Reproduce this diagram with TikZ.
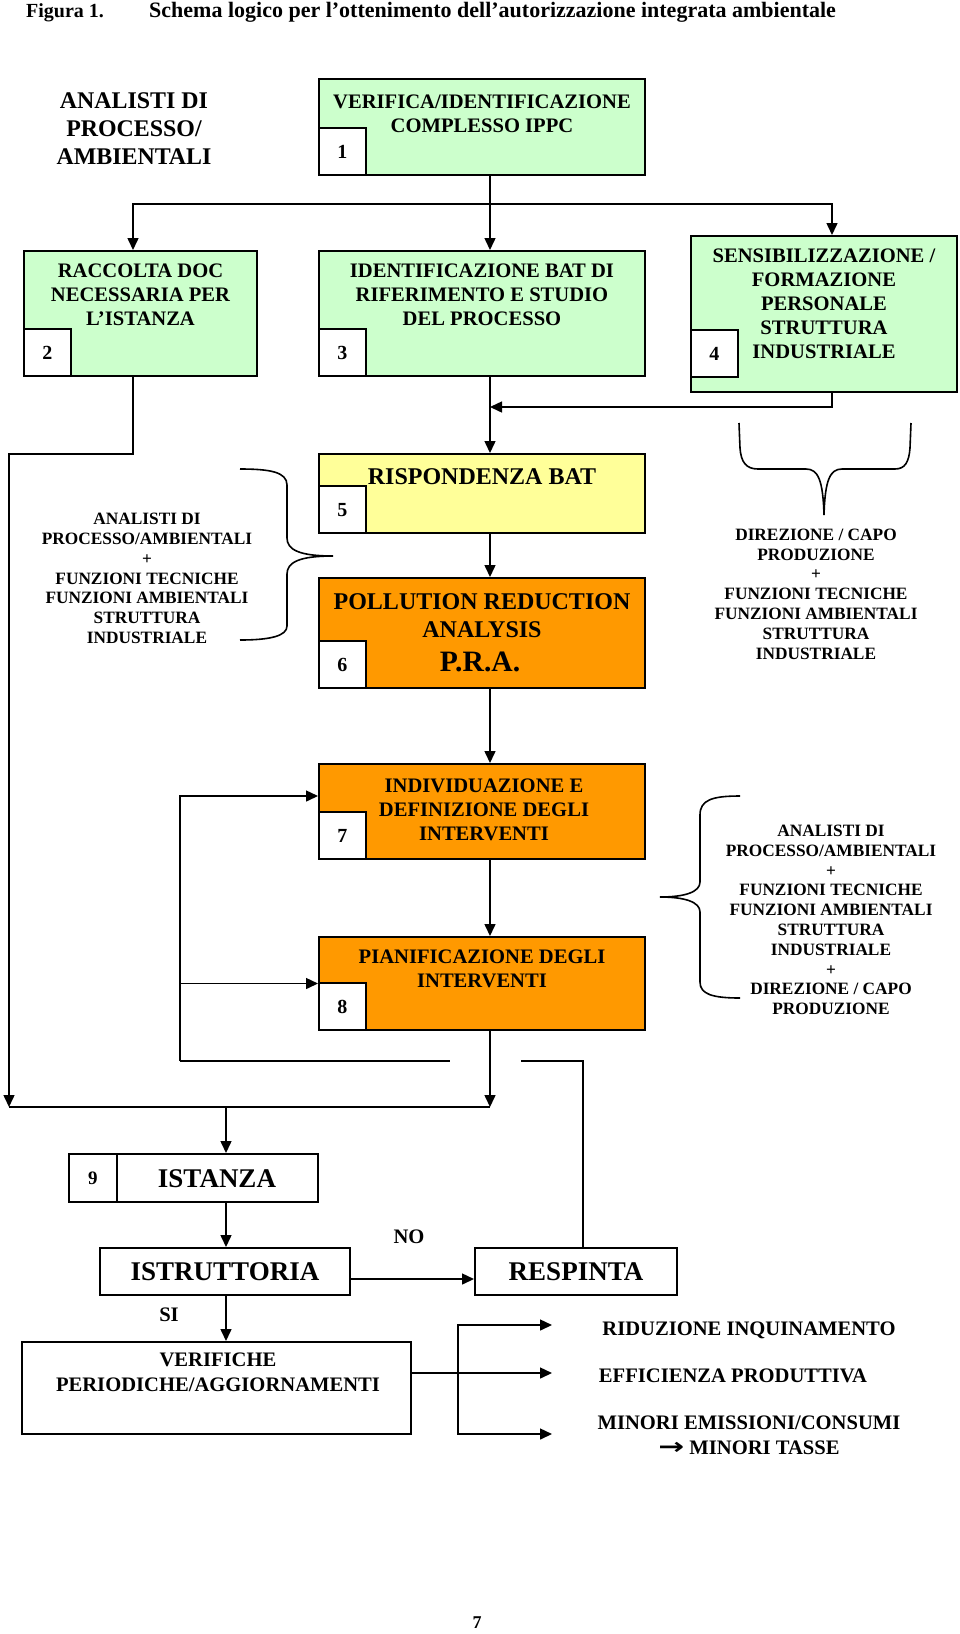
\documentclass[tikz,border=0pt]{standalone}
\usepackage{fontspec}
\setmainfont{Liberation Serif}
\newfontfamily\arrowfont{DejaVu Sans}
\usetikzlibrary{arrows.meta}
\definecolor{boxgreen}{RGB}{204,255,204}
\definecolor{boxyellow}{RGB}{255,255,153}
\definecolor{boxorange}{RGB}{255,153,0}

\begin{document}
\begin{tikzpicture}[x=1pt,y=-1pt,
  box/.style={draw,line width=2pt,inner sep=0pt,minimum width=326pt},
  greenbox/.style={box,fill=boxgreen},
  numbox/.style={draw,line width=1.6pt,fill=white,minimum size=47pt,inner sep=0pt,anchor=south west,font=\bfseries\fontsize{20}{24}\selectfont},
  boxtext/.style={align=center,inner sep=0pt,font=\bfseries\fontsize{20.6}{24}\selectfont},
  grouptext/.style={align=center,inner sep=0pt,font=\bfseries\fontsize{17.3}{19.8}\selectfont},
  bigtext/.style={inner sep=0pt,font=\bfseries\fontsize{27}{30}\selectfont},
  conn/.style={line width=1.5pt},
  arr/.style={conn,-{Triangle[length=12pt,width=11pt]}},
  brace/.style={line width=1.6pt}]

 \useasboundingbox (0,0) rectangle (960,1634);

 \node[anchor=base west,inner sep=0pt,font=\bfseries\fontsize{20}{24}\selectfont] (fig) at (26,17) {Figura 1.};
 \node[anchor=base west,inner sep=0pt,font=\bfseries\fontsize{22}{24}\selectfont] (title) at (149,17)
   {Schema logico per l’ottenimento dell’autorizzazione integrata ambientale};
 \node[align=center,inner sep=0pt,font=\bfseries\fontsize{23.9}{28}\selectfont] (hdr) at (134,129)
   {ANALISTI DI\\PROCESSO/\\AMBIENTALI};

 \node[greenbox,minimum height=96pt] (b1) at (482,127) {};
 \node[greenbox,minimum width=233pt,minimum height=125pt] (b2) at (140.5,313.5) {};
 \node[greenbox,minimum height=125pt] (b3) at (482,313.5) {};
 \node[greenbox,minimum width=266pt,minimum height=156pt] (b4) at (824,314) {};
 \node[box,fill=boxyellow,minimum height=79pt] (b5) at (482,493.5) {};
 \node[box,fill=boxorange,minimum height=110pt] (b6) at (482,633) {};
 \node[box,fill=boxorange,minimum height=95pt] (b7) at (482,811.5) {};
 \node[box,fill=boxorange,minimum height=93pt] (b8) at (482,983.5) {};

 \node[numbox] (n1) at (b1.south west) {1};
 \node[numbox] (n2) at (b2.south west) {2};
 \node[numbox] (n3) at (b3.south west) {3};
 \node[numbox] (n4) at ([yshift=15pt]b4.south west) {4};
 \node[numbox] (n5) at (b5.south west) {5};
 \node[numbox] (n6) at (b6.south west) {6};
 \node[numbox] (n7) at (b7.south west) {7};
 \node[numbox] (n8) at (b8.south west) {8};

 \node[boxtext] (t1) at (482,114) {VERIFICA/IDENTIFICAZIONE\\COMPLESSO IPPC};
 \node[boxtext] (t2) at (140.5,295) {RACCOLTA DOC\\NECESSARIA PER\\L’ISTANZA};
 \node[boxtext] (t3) at (482,295) {IDENTIFICAZIONE BAT DI\\RIFERIMENTO E STUDIO\\DEL PROCESSO};
 \node[boxtext] (t4) at (824,303.5) {SENSIBILIZZAZIONE /\\FORMAZIONE\\PERSONALE\\STRUTTURA\\INDUSTRIALE};
 \node[boxtext,font=\bfseries\fontsize{24}{28}\selectfont] (t5) at (482,477) {RISPONDENZA BAT};
 \node[boxtext,font=\bfseries\fontsize{24}{28}\selectfont] (t6) at (482,616) {POLLUTION REDUCTION\\ANALYSIS};
 \node[boxtext,font=\bfseries\fontsize{29.6}{33}\selectfont] (t6b) at (480,662) {P.R.A.};
 \node[boxtext] (t7) at (484,810) {INDIVIDUAZIONE E\\DEFINIZIONE DEGLI\\INTERVENTI};
 \node[boxtext] (t8) at (482,969) {PIANIFICAZIONE DEGLI\\INTERVENTI};

 \node[grouptext] (g1) at (147,578.5) {ANALISTI DI\\PROCESSO/AMBIENTALI\\+\\FUNZIONI TECNICHE\\FUNZIONI AMBIENTALI\\STRUTTURA\\INDUSTRIALE};
 \node[grouptext] (g2) at (816,594) {DIREZIONE / CAPO\\PRODUZIONE\\+\\FUNZIONI TECNICHE\\FUNZIONI AMBIENTALI\\STRUTTURA\\INDUSTRIALE};
 \node[grouptext] (g3) at (831,920) {ANALISTI DI\\PROCESSO/AMBIENTALI\\+\\FUNZIONI TECNICHE\\FUNZIONI AMBIENTALI\\STRUTTURA\\INDUSTRIALE\\+\\DIREZIONE / CAPO\\PRODUZIONE};

 \draw[brace] (240,469) .. controls (270,469) and (287,472) .. (287,485) -- (287,538)
   .. controls (287,550) and (300,556) .. (333,556) .. controls (300,556) and (287,562) .. (287,574)
   -- (287,626) .. controls (287,636) and (270,640) .. (240,640);
 \draw[brace] (739,423) -- (740,448) .. controls (741,462) and (746,469) .. (758,469) -- (806,469)
   .. controls (818,469) and (823,480) .. (824,515) .. controls (825,480) and (830,469) .. (842,469)
   -- (895,469) .. controls (905,469) and (909,462) .. (910,448) -- (911,423);
 \draw[brace] (740,796) .. controls (712,796) and (700,800) .. (700,815) -- (700,882)
   .. controls (700,892) and (685,897) .. (660,897) .. controls (685,897) and (700,902) .. (700,912)
   -- (700,982) .. controls (700,994) and (712,998) .. (740,998);

 \node[box,minimum width=249pt,minimum height=48pt] (b9) at (193.5,1178) {};
 \node[numbox,anchor=west,minimum width=48pt,minimum height=48pt,font=\bfseries\fontsize{19}{22}\selectfont] (n9) at (b9.west) {9};
 \node[bigtext] (t9) at (217,1179) {ISTANZA};
 \node[box,bigtext,draw,minimum width=250pt,minimum height=47pt] (is) at (225,1271.5) {ISTRUTTORIA};
 \node[box,bigtext,draw,minimum width=202pt,minimum height=47pt] (rs) at (576,1271.5) {RESPINTA};
 \node[box,minimum width=389pt,minimum height=92pt] (ver) at (216.5,1388) {};
 \node[boxtext,font=\bfseries\fontsize{20.6}{25}\selectfont] (tv) at (218,1372.5) {VERIFICHE\\PERIODICHE/AGGIORNAMENTI};
 \node[boxtext] (no) at (409,1237) {NO};
 \node[boxtext] (si) at (169,1315) {SI};

 \node[boxtext] (r1) at (749,1330) {RIDUZIONE INQUINAMENTO};
 \node[boxtext] (r2) at (733,1376) {EFFICIENZA PRODUTTIVA};
 \node[boxtext,font=\bfseries\fontsize{20.6}{25}\selectfont] (r3) at (749,1435.5)
   {MINORI EMISSIONI/CONSUMI\\\scalebox{1.5}[1.1]{\arrowfont\bfseries →}\ MINORI TASSE};

 \node[inner sep=0pt,font=\bfseries\fontsize{18}{20}\selectfont] (page) at (477,1623) {7};

 \coordinate (mid) at (490,0);
 \coordinate (c2) at (133,0);
 \coordinate (c4) at (832,0);
 \coordinate (c9) at (226,0);
 \coordinate (c5) at (583,0);
 \coordinate (j1) at (490,204);
 \coordinate (j2) at (490,407);
 \coordinate (l1) at (9,454);
 \coordinate (l2) at (9,1107);
 \coordinate (j3) at (490,1107);
 \coordinate (lp) at (180,1061);
 \coordinate (gl) at (450,1061);
 \coordinate (gr) at (521,1061);
 \coordinate (sp) at (458,1373);
 \coordinate (o1) at (552,1325);
 \coordinate (o2) at (552,1373);
 \coordinate (o3) at (552,1434);

 \draw[conn] (b1.south -| mid) -- (j1);
 \draw[arr] (j1) -| (b2.north -| c2);
 \draw[arr] (j1) -| (b4.north -| c4);
 \draw[arr] (j1) -- (b3.north -| mid);
 \draw[arr] (b4.south -| c4) |- (j2);
 \draw[arr] (b3.south -| mid) -- (b5.north -| mid);
 \draw[arr] (b2.south -| c2) |- (l1) -- (l2);
 \draw[arr] (b5.south -| mid) -- (b6.north -| mid);
 \draw[arr] (b6.south -| mid) -- (b7.north -| mid);
 \draw[arr] (b7.south -| mid) -- (b8.north -| mid);
 \draw[arr] (b8.south -| mid) -- (j3);
 \draw[conn] (l2) -- (j3);
 \draw[arr] (l2 -| c9) -- (b9.north -| c9);
 \draw[arr] (lp) |- ([yshift=15.5pt]b7.west);
 \draw[arr] (lp |- b8.west) -- (b8.west);
 \draw[conn] (lp) -- (gl);
 \draw[conn] (gr) -| (rs.north -| c5);
 \draw[arr] (b9.south -| c9) -- (is.north -| c9);
 \draw[arr] (is.south -| c9) -- (ver.north -| c9);
 \draw[arr] ([yshift=-7.5pt]is.east) -- ([yshift=-7.5pt]rs.west);
 \draw[arr] (ver.east |- o2) -- (o2);
 \draw[arr] (sp) |- (o1);
 \draw[arr] (sp) |- (o3);
\end{tikzpicture}
\end{document}
